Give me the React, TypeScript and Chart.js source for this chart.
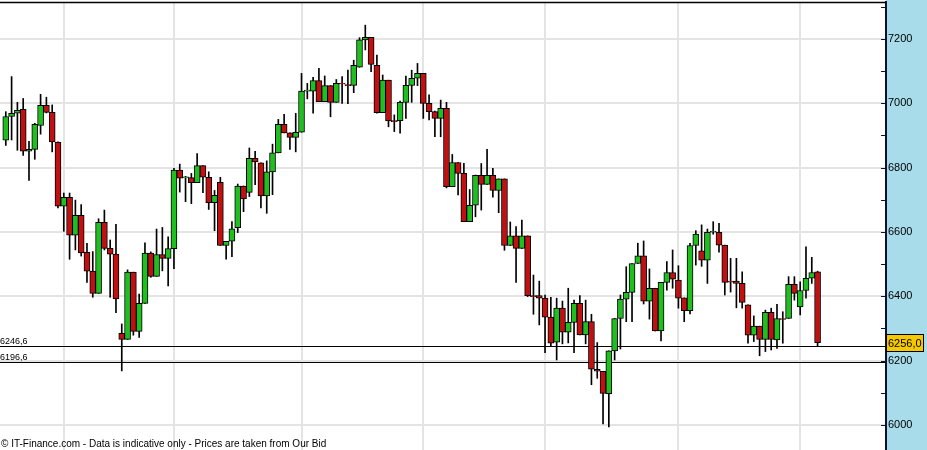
import React, { useEffect, useRef } from 'react';
import { Chart, registerables } from 'chart.js';

Chart.register(...registerables);

// Daily candles (oldest first)
const openP = [
  6885, 6959, 6969, 6981, 6851, 6857, 6931, 6994, 6972, 6879,
  6680, 6708, 6590, 6652, 6537, 6478, 6409, 6630, 6549, 6531,
  6285, 6266, 6475, 6291, 6378, 6534, 6462, 6530, 6518, 6548,
  6792, 6768, 6769, 6753, 6806, 6770, 6691, 6754, 6558, 6571,
  6613, 6743, 6723, 6829, 6815, 6712, 6787, 6846, 6935, 6908,
  6894, 6910, 7038, 7038, 7071, 7005, 7055, 7003, 7062, 7058,
  7056, 7112, 7197, 7205, 7118, 6971, 7072, 6946, 6946, 7003,
  7056, 7078, 7093, 7000, 6974, 6953, 6984, 6741, 6816, 6782,
  6632, 6683, 6776, 6748, 6776, 6729, 6765, 6558, 6588, 6549,
  6588, 6402, 6402, 6394, 6335, 6257, 6363, 6288, 6319, 6378,
  6280, 6321, 6173, 6167, 6097, 6230, 6331, 6391, 6412, 6502,
  6526, 6385, 6425, 6292, 6443, 6474, 6450, 6395, 6355, 6558,
  6541, 6512, 6599, 6599, 6559, 6447, 6447, 6440, 6373, 6279,
  6307, 6266, 6350, 6264, 6331, 6331, 6437, 6367, 6418, 6456,
  6476,
];
const highP = [
  6974, 7083, 7003, 7015, 6882, 6938, 7028, 7019, 6995, 6880,
  6721, 6721, 6699, 6685, 6565, 6539, 6641, 6668, 6575, 6624,
  6314, 6482, 6475, 6407, 6566, 6538, 6609, 6614, 6585, 6798,
  6811, 6773, 6782, 6844, 6806, 6787, 6729, 6770, 6571, 6632,
  6749, 6743, 6861, 6851, 6815, 6821, 6873, 6950, 6966, 6908,
  6969, 7093, 7062, 7081, 7109, 7085, 7055, 7074, 7083, 7103,
  7134, 7204, 7243, 7205, 7150, 7088, 7072, 6964, 7007, 7085,
  7103, 7124, 7093, 7026, 6976, 7010, 7003, 6841, 6816, 6813,
  6732, 6777, 6813, 6857, 6798, 6765, 6765, 6631, 6617, 6637,
  6588, 6466, 6447, 6404, 6397, 6394, 6385, 6425, 6388, 6402,
  6388, 6344, 6256, 6167, 6230, 6331, 6404, 6492, 6502, 6565,
  6572, 6485, 6425, 6443, 6508, 6544, 6495, 6395, 6565, 6604,
  6622, 6609, 6632, 6627, 6559, 6518, 6518, 6476, 6373, 6339,
  6307, 6357, 6363, 6375, 6352, 6461, 6461, 6445, 6554, 6521,
  6478,
];
const lowP = [
  6869, 6886, 6854, 6838, 6760, 6826, 6904, 6970, 6849, 6675,
  6602, 6515, 6544, 6525, 6443, 6397, 6409, 6544, 6397, 6349,
  6168, 6266, 6279, 6272, 6378, 6459, 6462, 6479, 6432, 6486,
  6724, 6694, 6688, 6753, 6722, 6670, 6604, 6558, 6515, 6523,
  6598, 6663, 6710, 6747, 6675, 6658, 6716, 6846, 6908, 6857,
  6849, 6910, 7014, 6969, 7005, 7005, 6958, 7003, 7000, 6999,
  7033, 7112, 7166, 7098, 6969, 6971, 6927, 6912, 6907, 6953,
  7003, 7055, 6953, 6948, 6896, 6896, 6737, 6741, 6715, 6632,
  6632, 6647, 6668, 6748, 6708, 6660, 6543, 6558, 6443, 6549,
  6399, 6344, 6311, 6225, 6243, 6202, 6252, 6255, 6225, 6280,
  6252, 6125, 6145, 6003, 5994, 6202, 6236, 6321, 6321, 6502,
  6376, 6329, 6292, 6261, 6419, 6425, 6363, 6321, 6345, 6497,
  6493, 6440, 6593, 6537, 6404, 6413, 6364, 6363, 6254, 6259,
  6215, 6228, 6233, 6238, 6254, 6331, 6388, 6342, 6394, 6440,
  6245,
];
const closeP = [
  6959, 6969, 6978, 6851, 6857, 6935, 6994, 6972, 6880, 6680,
  6708, 6590, 6652, 6535, 6478, 6409, 6630, 6549, 6531, 6392,
  6266, 6475, 6291, 6378, 6534, 6462, 6530, 6518, 6548, 6792,
  6767, 6771, 6753, 6806, 6770, 6691, 6714, 6558, 6571, 6610,
  6743, 6703, 6829, 6818, 6712, 6787, 6846, 6935, 6908, 6894,
  6910, 7038, 7041, 7071, 7005, 7055, 7003, 7062, 7060, 7055,
  7118, 7197, 7205, 7121, 6971, 7072, 6945, 6943, 7003, 7056,
  7078, 7093, 7000, 6974, 6953, 6984, 6741, 6816, 6782, 6632,
  6683, 6776, 6748, 6776, 6729, 6765, 6558, 6588, 6549, 6588,
  6402, 6399, 6394, 6335, 6254, 6363, 6288, 6319, 6378, 6280,
  6321, 6173, 6167, 6098, 6230, 6331, 6391, 6412, 6502, 6526,
  6385, 6425, 6292, 6443, 6474, 6453, 6394, 6355, 6558, 6593,
  6512, 6599, 6602, 6559, 6443, 6444, 6440, 6381, 6279, 6307,
  6266, 6350, 6266, 6331, 6328, 6437, 6409, 6418, 6456, 6474,
  6256.0,
];

const yMajorTicks = [6000, 6200, 6400, 6600, 6800, 7000, 7200];
const yMinorTicks = [6100, 6300, 6500, 6700, 6900, 7100, 7300];
const monthStartIdx = [10, 29, 51, 72, 93, 116, 137];
const refLines = [6246.6, 6196.6];
const lastPrice = 6256.0;
const footerText = '\u00A9 IT-Finance.com - Data is indicative only - Prices are taken from Our Bid';

const GREEN = '#20bf20';
const RED = '#bf1111';
const PANEL = '#a8dcea';
const FONT = '"Liberation Sans", Arial, sans-serif';

const fmt = (v: number) => v.toFixed(1).replace('.', ',');

const decorPlugin = {
  id: 'decor',
  beforeDraw(chart: any) {
    const { ctx, chartArea, width, height } = chart;
    ctx.save();
    ctx.fillStyle = '#ffffff';
    ctx.fillRect(0, 0, width, height);
    ctx.fillStyle = PANEL;
    ctx.fillRect(chartArea.right, 0, width - chartArea.right, height);
    ctx.restore();
  },
  beforeDatasetsDraw(chart: any) {
    const { ctx, chartArea } = chart;
    const ys = chart.scales.y;
    ctx.save();
    ctx.strokeStyle = '#000';
    ctx.lineWidth = 1;
    ctx.fillStyle = '#000';
    ctx.font = `9px ${FONT}`;
    ctx.textBaseline = 'alphabetic';
    ctx.textAlign = 'left';
    refLines.forEach((v) => {
      const py = Math.round(ys.getPixelForValue(v)) + 0.5;
      ctx.beginPath();
      ctx.moveTo(0, py);
      ctx.lineTo(chartArea.right, py);
      ctx.stroke();
      ctx.fillText(fmt(v), 0, py - 3);
    });
    ctx.restore();
  },
  afterDraw(chart: any) {
    const { ctx, chartArea } = chart;
    const ys = chart.scales.y;
    ctx.save();
    // top border
    ctx.strokeStyle = '#000';
    ctx.lineWidth = 1.5;
    ctx.beginPath();
    ctx.moveTo(0, chartArea.top + 0.5);
    ctx.lineTo(chartArea.right, chartArea.top + 0.5);
    ctx.stroke();
    // tick marks to the left of the axis
    ctx.strokeStyle = '#101030';
    ctx.lineWidth = 1;
    [...yMajorTicks, ...yMinorTicks].forEach((v) => {
      const py = Math.round(ys.getPixelForValue(v)) + 0.5;
      ctx.beginPath();
      ctx.moveTo(chartArea.right - 5, py);
      ctx.lineTo(chartArea.right, py);
      ctx.stroke();
    });
    // last price box
    const lp = ys.getPixelForValue(lastPrice);
    const bx = chartArea.right + 0.5;
    const by = Math.round(lp - 9) + 0.5;
    ctx.fillStyle = '#f6c800';
    ctx.fillRect(bx, by, 37, 17);
    ctx.strokeStyle = '#000';
    ctx.lineWidth = 1;
    ctx.strokeRect(bx, by, 37, 17);
    ctx.fillStyle = '#000';
    ctx.font = `11px ${FONT}`;
    ctx.textAlign = 'left';
    ctx.textBaseline = 'middle';
    ctx.fillText(fmt(lastPrice), bx + 1.5, by + 9);
    // footer
    ctx.font = `10px ${FONT}`;
    ctx.textBaseline = 'alphabetic';
    ctx.fillText(footerText, 1, 447);
    ctx.restore();
  },
};

export default function App() {
  const ref = useRef<HTMLCanvasElement | null>(null);

  useEffect(() => {
    if (!ref.current) return;
    const idx = openP.map((_, i) => i);
    const chart = new Chart(ref.current, {
      type: 'bar',
      data: {
        datasets: [
          {
            label: 'bodies',
            data: idx.map((i) => ({ x: i, y: [openP[i], closeP[i]] })) as any,
            backgroundColor: idx.map((i) => (closeP[i] >= openP[i] ? GREEN : RED)),
            borderColor: '#000',
            borderWidth: 1,
            borderSkipped: false,
            barThickness: 6,
            grouped: false,
            order: 1,
          } as any,
          {
            label: 'wicks',
            data: idx.map((i) => ({ x: i, y: [lowP[i], highP[i]] })) as any,
            backgroundColor: '#000',
            borderWidth: 0,
            barThickness: 1,
            grouped: false,
            order: 2,
          } as any,
        ],
      },
      options: {
        responsive: false,
        animation: false,
        devicePixelRatio: 1,
        layout: { padding: { top: 2, left: 0, right: 0, bottom: 0 } },
        plugins: { legend: { display: false }, tooltip: { enabled: false } },
        scales: {
          x: {
            type: 'linear',
            min: -1,
            max: 151.8,
            offset: false,
            ticks: { display: false },
            grid: { color: '#e4e4e4', lineWidth: 2, drawTicks: false, offset: false },
            border: { display: false },
            afterBuildTicks: (scale: any) => {
              scale.ticks = monthStartIdx.map((v) => ({ value: v }));
            },
            afterFit: (scale: any) => {
              scale.height = 0;
              scale.paddingLeft = 0;
              scale.paddingRight = 0;
              scale.paddingTop = 0;
              scale.paddingBottom = 0;
            },
          },
          y: {
            type: 'linear',
            position: 'right',
            min: 5922,
            max: 7315,
            afterBuildTicks: (scale: any) => {
              scale.ticks = yMajorTicks.map((v) => ({ value: v }));
            },
            afterFit: (scale: any) => {
              scale.width = 41;
              scale.paddingTop = 0;
              scale.paddingBottom = 0;
              scale.paddingLeft = 0;
              scale.paddingRight = 0;
            },
            ticks: {
              color: '#000',
              padding: 2,
              font: { family: FONT, size: 11 },
              callback: (v: any) => String(v),
            },
            grid: { color: '#e4e4e4', lineWidth: 2, drawTicks: false },
            border: { color: '#101030', width: 2 },
          },
        },
      } as any,
      plugins: [decorPlugin],
    });
    return () => chart.destroy();
  }, []);

  return (
    <div style={{ position: 'fixed', left: 0, top: 0, width: 927, height: 450, background: '#fff' }}>
      <canvas ref={ref} width={927} height={450} style={{ display: 'block', width: 927, height: 450 }} />
    </div>
  );
}
